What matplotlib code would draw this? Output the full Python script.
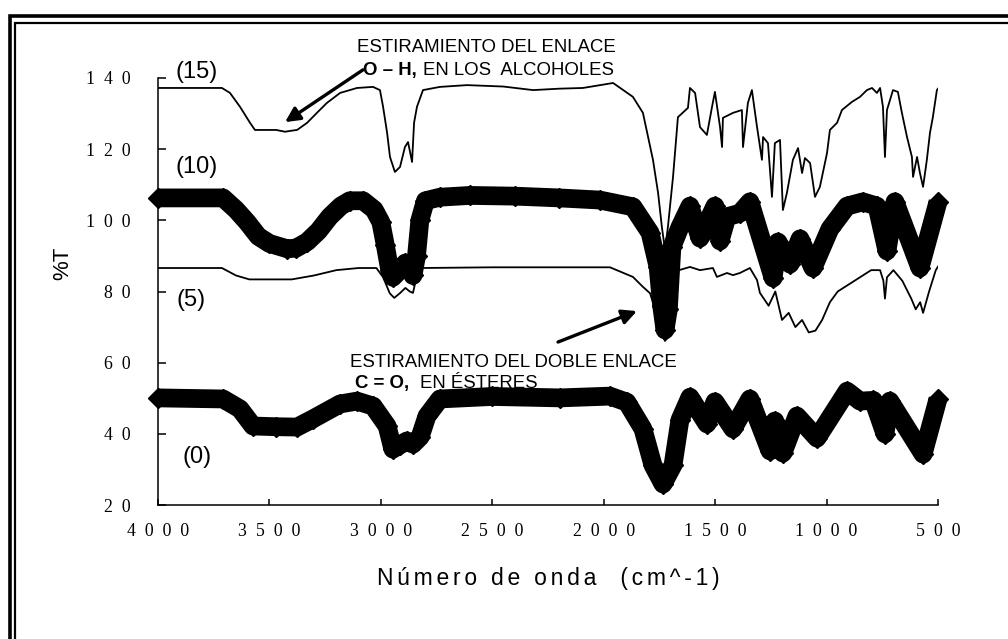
import matplotlib
matplotlib.use("Agg")
import matplotlib.pyplot as plt
from matplotlib.lines import Line2D

# ---- IR spectra: wavenumber (cm^-1) and %T for each sample (offset traces) ----
wn_15 = [4000, 3713, 3677, 3632, 3587, 3565, 3470, 3430, 3400, 3376, 3331, 3287, 3242, 3183,
         3107, 3035, 3004, 2990, 2972, 2959, 2937, 2914, 2892, 2878, 2860, 2851, 2838, 2811,
         2735, 2613, 2450, 2317, 2200, 2093, 1958, 1869, 1824, 1779, 1756, 1739, 1725, 1712,
         1689, 1667, 1622, 1613, 1590, 1568, 1537, 1514, 1501, 1478, 1469, 1465, 1420, 1380,
         1375, 1353, 1335, 1312, 1290, 1285, 1263, 1245, 1232, 1209, 1196, 1178, 1151, 1128,
         1110, 1097, 1074, 1052, 1030, 998, 985, 953, 931, 886, 850, 819, 796, 774, 760, 747,
         738, 729, 702, 680, 662, 639, 617, 612, 594, 581, 567, 550, 536, 523, 505, 500]
t_15 = [137.2, 137.2, 135.8, 131.9, 127.4, 125.4, 125.4, 124.9, 125.2, 125.4, 127.4, 130.2,
        133.0, 135.8, 137.2, 137.5, 136.6, 131.9, 124.6, 117.8, 113.6, 115.0, 120.6, 122.0,
        116.4, 127.4, 131.9, 136.6, 137.5, 138.0, 137.6, 136.6, 137.0, 137.2, 138.6, 134.7,
        130.2, 117.0, 107.7, 98.1, 91.7, 98.1, 112.2, 129.0, 131.6, 137.2, 135.8, 126.2,
        124.0, 131.9, 136.1, 126.2, 120.6, 128.8, 130.2, 131.0, 120.6, 133.0, 136.6, 126.2,
        117.0, 123.4, 121.7, 106.6, 121.7, 122.6, 102.9, 107.7, 117.0, 120.3, 113.3, 117.5,
        116.1, 106.6, 109.4, 118.9, 125.4, 127.4, 131.0, 133.3, 134.7, 136.6, 137.2, 135.8,
        137.2, 131.9, 117.8, 131.0, 136.6, 136.1, 130.2, 123.4, 117.8, 112.2, 117.8, 113.3,
        109.4, 117.0, 124.6, 129.0, 136.6, 137.0]

wn_10 = [4000, 3708, 3650, 3600, 3550, 3500, 3420, 3380, 3330, 3280, 3230, 3180, 3140, 3080,
         3030, 3000, 2980, 2960, 2946, 2915, 2890, 2870, 2856, 2840, 2825, 2800, 2735, 2600,
         2400, 2200, 2017, 1869, 1792, 1756, 1740, 1725, 1710, 1694, 1658, 1613, 1568, 1501,
         1478, 1447, 1389, 1344, 1240, 1218, 1164, 1119, 1061, 985, 908, 837, 774, 729, 693,
         581, 500]
t_10 = [106.3, 106.3, 103.0, 99.5, 95.5, 93.5, 92.0, 92.2, 94.0, 97.0, 101.0, 104.0, 105.5,
        105.5, 103.0, 99.5, 93.0, 86.0, 84.0, 86.0, 88.0, 87.0, 84.5, 90.0, 100.0, 105.5,
        106.5, 107.0, 106.8, 106.3, 105.7, 103.8, 96.5, 86.9, 76.0, 69.2, 75.0, 92.5, 98.1,
        104.0, 95.0, 104.0, 94.2, 101.0, 102.0, 105.2, 83.8, 93.9, 87.7, 94.8, 86.6, 97.6,
        104.0, 105.2, 104.0, 91.4, 105.2, 86.6, 105.2]

wn_5 = [4000, 3713, 3650, 3590, 3400, 3300, 3200, 3100, 3020, 2990, 2960, 2940, 2915, 2890,
        2870, 2856, 2840, 2820, 2500, 2200, 1972, 1869, 1824, 1792, 1760, 1740, 1725, 1712,
        1700, 1689, 1662, 1613, 1568, 1510, 1492, 1447, 1420, 1389, 1344, 1312, 1299, 1260,
        1230, 1200, 1170, 1140, 1110, 1080, 1050, 1020, 985, 950, 900, 850, 800, 760, 745,
        738, 729, 700, 660, 620, 600, 580, 567, 540, 510, 500]
t_5 = [86.6, 86.6, 84.5, 83.4, 83.4, 84.5, 86.0, 86.6, 86.6, 84.0, 79.5, 78.2, 79.5, 81.0,
       80.0, 79.6, 84.0, 86.6, 86.8, 86.8, 86.8, 84.1, 81.3, 79.5, 73.0, 68.0, 66.1, 70.0,
       78.0, 85.2, 86.0, 86.9, 86.0, 86.6, 84.1, 85.2, 84.6, 85.2, 86.6, 83.2, 79.6, 76.0,
       80.0, 72.0, 74.0, 70.0, 72.0, 68.5, 69.0, 72.0, 77.0, 80.0, 82.0, 84.0, 86.0, 86.0,
       83.0, 78.0, 84.0, 86.0, 83.0, 78.0, 75.0, 77.0, 74.0, 80.0, 86.0, 87.0]

wn_0 = [4000, 3708, 3632, 3574, 3470, 3376, 3305, 3183, 3107, 3035, 2972, 2946, 2914, 2883,
        2856, 2824, 2793, 2735, 2500, 2196, 1972, 1896, 1824, 1779, 1734, 1689, 1658, 1613,
        1537, 1501, 1420, 1344, 1254, 1232, 1196, 1133, 1043, 908, 850, 790, 738, 716, 567, 500]
t_0 = [50.1, 49.8, 47.0, 42.2, 42.0, 41.9, 44.2, 48.4, 49.2, 47.8, 42.2, 35.7, 36.9, 38.0,
       37.1, 39.1, 45.0, 49.8, 50.5, 50.1, 50.6, 48.9, 41.4, 31.2, 25.9, 31.2, 43.9, 50.3,
       42.8, 49.0, 41.4, 49.8, 35.2, 43.6, 34.6, 45.0, 38.8, 52.0, 49.2, 49.4, 40.0, 49.2,
       34.3, 49.8]

x_ticks = [4000, 3500, 3000, 2500, 2000, 1500, 1000, 500]
y_ticks = [20, 40, 60, 80, 100, 120, 140]

SANS = ["Liberation Sans", "DejaVu Sans"]
SERIF = ["Liberation Serif", "DejaVu Serif"]

W, H = 1008, 639
fig = plt.figure(figsize=(W / 100, H / 100), dpi=100)
fig.patch.set_facecolor("white")


def fp(x, y):
    """pixel position (from top-left) -> figure fraction"""
    return x / W, 1 - y / H


# double page frame (thick outer line, thin inner line)
for (x0, y0, lw) in [(10, 16.2, 2.6), (14.5, 22.7, 1.6)]:
    fig.add_artist(Line2D([x0 / W, x0 / W, 1.05], [-0.05, 1 - y0 / H, 1 - y0 / H],
                          transform=fig.transFigure, color="black", lw=lw,
                          solid_joinstyle="miter"))

ax = fig.add_axes([158 / W, 1 - 505 / H, 780 / W, 427 / H])
ax.set_xlim(4000, 500)
ax.set_ylim(20, 140)
for s in ("top", "right"):
    ax.spines[s].set_visible(False)
for s in ("left", "bottom"):
    ax.spines[s].set_linewidth(1.1)

# thin traces
ax.plot(wn_15, t_15, color="black", lw=1.3, zorder=2)
ax.plot(wn_5, t_5, color="black", lw=1.3, zorder=2)
# heavy traces drawn with diamond markers
for wn, t in [(wn_10, t_10), (wn_0, t_0)]:
    ax.plot(wn, t, color="black", lw=13.5, marker="D", markersize=10.5,
            solid_joinstyle="round", solid_capstyle="butt", zorder=3, clip_on=False)

ax.set_xticks(x_ticks)
ax.set_xticklabels(["  ".join(str(v)) for v in x_ticks])
ax.set_yticks(y_ticks)
ax.set_yticklabels(["  ".join(str(v)) for v in y_ticks])
ax.tick_params(axis="x", direction="in", length=4, width=1.1, pad=13)
ax.tick_params(axis="y", direction="in", length=6, width=1.1, pad=20)
for lab in ax.get_xticklabels() + ax.get_yticklabels():
    lab.set_fontfamily(SERIF)
    lab.set_fontsize(12.8)

ax.set_ylabel("%T", fontsize=16, family=SANS)
ax.yaxis.set_label_coords((63 - 158) / 780, (505 - 263) / 427)
ax.yaxis.label.set_va("center")
ax.yaxis.label.set_ha("center")

ax.set_xlabel("\u2006".join("Número de onda  (cm^-1)"), fontsize=16.5, family=SANS)
ax.xaxis.set_label_coords(0.5, (505 - 578) / 427)
ax.xaxis.label.set_va("center")

# sample labels
for txt, (x, y) in [("(15)", (197, 72)), ("(10)", (197, 167)),
                    ("(5)", (191, 300)), ("(0)", (197, 457))]:
    fig.text(*fp(x, y), txt, fontsize=17, family=SANS, ha="center", va="center")

# band assignments
AF = 13.4
fig.text(*fp(357, 52), "ESTIRAMIENTO DEL ENLACE", fontsize=AF, family=SANS, va="baseline")
fig.text(*fp(363, 75), "O – H,", fontsize=AF, family=SANS, weight="bold", va="baseline")
fig.text(*fp(423, 75), "EN LOS  ALCOHOLES", fontsize=AF, family=SANS, va="baseline")
fig.text(*fp(350, 367), "ESTIRAMIENTO DEL DOBLE ENLACE", fontsize=AF, family=SANS,
         va="baseline")
fig.text(*fp(355, 388), "C = O,", fontsize=AF, family=SANS, weight="bold", va="baseline")
fig.text(*fp(420, 388), "EN ÉSTERES", fontsize=AF, family=SANS, va="baseline")

arrow = dict(arrowstyle="-|>", lw=2.4, color="black", mutation_scale=22,
             shrinkA=0, shrinkB=0)
ax.annotate("", xy=(3430, 127.6), xytext=(3080, 142.3), arrowprops=arrow,
            annotation_clip=False)
ax.annotate("", xy=(1851, 74.5), xytext=(2205, 65.8), arrowprops=arrow,
            annotation_clip=False)

fig.savefig("out.png", dpi=100, facecolor="white")
